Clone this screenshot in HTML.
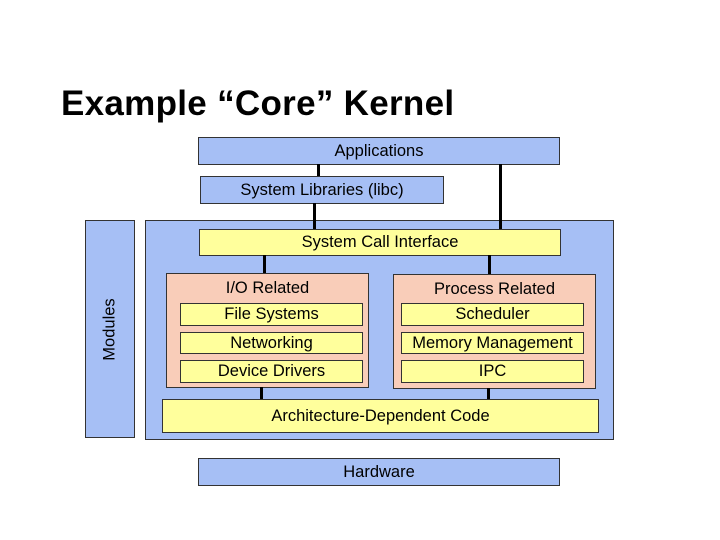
<!DOCTYPE html>
<html><head><style>
body{margin:0;width:720px;height:540px;background:#fff;position:relative;overflow:hidden;font-family:"Liberation Sans",Arial,sans-serif}
.b{position:absolute;box-sizing:border-box;border:1px solid #333;display:flex;align-items:center;justify-content:center;font-size:16.5px;color:#000}
.bl{background:#a6bff5}
.y{background:#ffff9c}
.p{background:#f9cdb9}
.l{position:absolute;background:#000}
</style></head><body>
<div style="position:absolute;left:61px;top:84px;font-size:35px;font-weight:bold;white-space:nowrap;letter-spacing:0.3px">Example “Core” Kernel</div>
<div class="b bl" style="left:198px;top:137px;width:362px;height:28px">Applications</div>
<div class="b bl" style="left:200px;top:176px;width:244px;height:28px">System Libraries (libc)</div>
<div class="b bl" style="left:85px;top:220px;width:50px;height:218px"><span style="transform:rotate(-90deg);white-space:nowrap">Modules</span></div>
<div class="b bl" style="left:145px;top:220px;width:469px;height:220px"></div>
<div class="l" style="left:317px;top:164px;width:3px;height:12px"></div>
<div class="l" style="left:313px;top:203px;width:3px;height:26px"></div>
<div class="l" style="left:499px;top:164px;width:3px;height:65px"></div>
<div class="b y" style="left:199px;top:229px;width:362px;height:27px">System Call Interface</div>
<div class="l" style="left:263px;top:255px;width:3px;height:18px"></div>
<div class="l" style="left:488px;top:255px;width:3px;height:19px"></div>
<div class="b p" style="left:166px;top:273px;width:203px;height:115px;align-items:flex-start;padding-top:5px">I/O Related</div>
<div class="b p" style="left:393px;top:274px;width:203px;height:115px;align-items:flex-start;padding-top:5px">Process Related</div>
<div class="b y" style="left:180px;top:303px;width:183px;height:23px">File Systems</div>
<div class="b y" style="left:180px;top:332px;width:183px;height:22px">Networking</div>
<div class="b y" style="left:180px;top:360px;width:183px;height:23px">Device Drivers</div>
<div class="b y" style="left:401px;top:303px;width:183px;height:23px">Scheduler</div>
<div class="b y" style="left:401px;top:332px;width:183px;height:22px">Memory Management</div>
<div class="b y" style="left:401px;top:360px;width:183px;height:23px">IPC</div>
<div class="l" style="left:260px;top:387px;width:3px;height:12px"></div>
<div class="l" style="left:487px;top:388px;width:3px;height:11px"></div>
<div class="b y" style="left:162px;top:399px;width:437px;height:34px">Architecture-Dependent Code</div>
<div class="b bl" style="left:198px;top:458px;width:362px;height:28px">Hardware</div>
</body></html>
